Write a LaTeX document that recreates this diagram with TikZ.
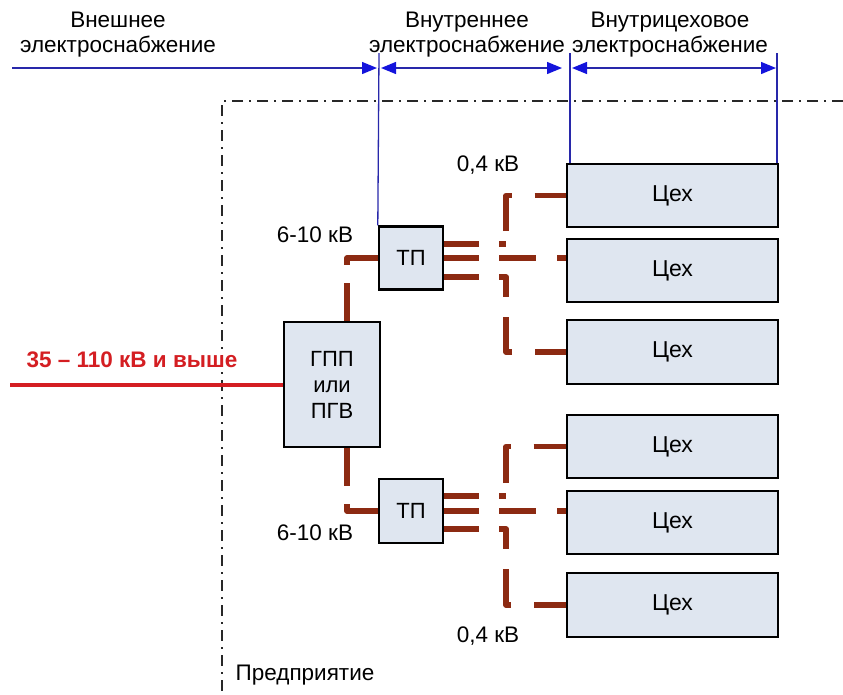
\documentclass[tikz,border=0pt]{standalone}
\usepackage{fontspec}
\setmainfont{Liberation Sans}
\usetikzlibrary{arrows.meta}

\definecolor{boxfill}{RGB}{223,230,240}
\definecolor{feedcol}{RGB}{140,42,18}
\definecolor{zonecol}{RGB}{40,40,170}
\definecolor{tipcol}{RGB}{20,20,220}
\definecolor{hvcol}{RGB}{212,30,34}
\definecolor{framecol}{RGB}{40,40,40}

\tikzset{
  unit/.style={draw=black, line width=2.4pt, fill=boxfill, inner sep=0pt,
    font=\fontsize{22}{26}\selectfont, align=center},
  shop/.style={unit, font=\fontsize{23}{26}\selectfont, minimum width=211pt, minimum height=63pt},
  sub/.style={unit, minimum width=64pt, minimum height=63pt},
  lbl/.style={inner sep=0pt, font=\fontsize{22.5}{25}\selectfont, align=center},
  feeder/.style={draw=feedcol, line width=5.5pt, line join=round},
  upbranch/.style={feeder, dash pattern=on 35pt off 20pt on 7pt off 13pt on 41pt off 23pt on 60pt},
  downbranch/.style={feeder, dash pattern=on 35pt off 20pt on 27pt off 20pt on 41pt off 23pt on 60pt},
  midbranch/.style={feeder, dash pattern=on 35pt off 20pt on 37pt off 21pt on 40pt},
  inbranch/.style={feeder, dash pattern=on 38pt off 18pt on 60pt},
  zone/.style={draw=zonecol, line width=1.3pt},
  zonearrow/.style={zone, arrows={-Triangle[length=15pt,width=12pt,color=tipcol]}},
  zonearrows/.style={zone, arrows={Triangle[length=15pt,width=12pt,color=tipcol]-Triangle[length=15pt,width=12pt,color=tipcol]}},
  frame/.style={draw=framecol, line width=2.4pt, dash pattern=on 11pt off 6pt on 2pt off 6pt},
}

\begin{document}
\begin{tikzpicture}[x=1pt, y=-1pt]
  \useasboundingbox (0,0) rectangle (843,694);

  % enterprise boundary
  \coordinate (fr0) at (843,101);
  \coordinate (fr1) at (222,101);
  \coordinate (fr2) at (222,694);
  \draw[frame] (fr0) -- (fr1) -- (fr2);

  % supply zone captions
  \node[lbl] (zext) at (118,35) {Внешнее\\электроснабжение};
  \node[lbl] (zint) at (467,35) {Внутреннее\\электроснабжение};
  \node[lbl] (zshop) at (670,35) {Внутрицеховое\\электроснабжение};

  % main step-down substation
  \node[unit, minimum width=96pt, minimum height=125pt] (gpp) at (332,384.5) {ГПП\\или\\ПГВ};

  % transformer substations
  \node[sub] (tp1) at (411,258) {ТП};
  \node[sub, minimum height=64pt] (tp2) at (411,511) {ТП};

  % workshops
  \node[shop] (c1) at (672.5,195.5) {Цех};
  \node[shop] (c2) at (672.5,270.5) {Цех};
  \node[shop, minimum height=64pt] (c3) at (672.5,352) {Цех};
  \node[shop] (c4) at (672.5,446.5) {Цех};
  \node[shop] (c5) at (672.5,522.5) {Цех};
  \node[shop, minimum height=64pt] (c6) at (672.5,605) {Цех};

  % zone boundaries
  \coordinate (b1) at (379,53);
  \coordinate (b2) at (570,53);
  \coordinate (b3) at (777,53);
  \draw[zone] (b1) -- (tp1.north west);
  \draw[zone] (b2) -- (b2 |- c1.north);
  \draw[zone] (b3) -- (b3 |- c1.north);

  \coordinate (a0) at (12,68);
  \coordinate (a1) at (377,68);
  \coordinate (a2) at (381,68);
  \coordinate (a3) at (562,68);
  \coordinate (a4) at (572,68);
  \coordinate (a5) at (776,68);
  \draw[zonearrow] (a0) -- (a1);
  \draw[zonearrows] (a2) -- (a3);
  \draw[zonearrows] (a4) -- (a5);

  % high-voltage supply line
  \coordinate (hv) at (10,385);
  \draw[draw=hvcol, line width=4pt] (hv) -- (hv -| gpp.west);
  \node[lbl, text=hvcol, font=\fontsize{22.5}{25}\selectfont\bfseries] (hvl) at (132,360) {35 – 110 кВ и выше};

  % 6-10 kV feeders
  \draw[inbranch] ([xshift=15pt]gpp.north) |- (tp1.west);
  \draw[inbranch] ([xshift=15pt]gpp.south) |- (tp2.west);

  % 0.4 kV feeders, upper group
  \draw[upbranch] ([yshift=14pt]tp1.east) -- ++(62,0) |- (c1.west);
  \draw[midbranch] (tp1.east) -- (tp1.east -| c2.west);
  \draw[downbranch] ([yshift=-19pt]tp1.east) -- ++(62,0) |- (c3.west);

  % 0.4 kV feeders, lower group
  \draw[upbranch] ([yshift=15pt]tp2.east) -- ++(62,0) |- (c4.west);
  \draw[midbranch] (tp2.east) -- (tp2.east -| c5.west);
  \draw[downbranch] ([yshift=-18pt]tp2.east) -- ++(62,0) |- (c6.west);

  % voltage labels
  \node[lbl] (v1) at (315,235) {6-10 кВ};
  \node[lbl] (v2) at (315,533) {6-10 кВ};
  \node[lbl] (v3) at (488,165) {0,4 кВ};
  \node[lbl] (v4) at (488,636) {0,4 кВ};

  \node[lbl] (ent) at (305,675) {Предприятие};
\end{tikzpicture}
\end{document}
